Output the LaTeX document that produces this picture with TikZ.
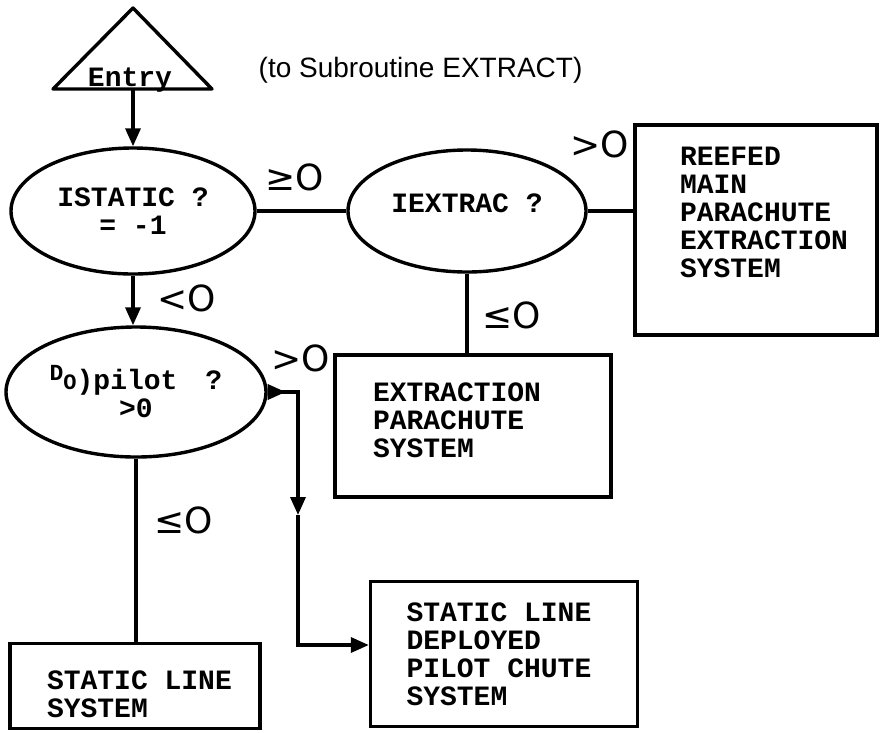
\documentclass[tikz,border=0pt]{standalone}
\usepackage{fontspec}
\setmonofont{Liberation Mono}
\newfontfamily\headfont{Liberation Sans}
\newfontfamily\condfont{DejaVu Sans}
\usepackage{tikz}
\usetikzlibrary{arrows.meta,shapes.geometric}

\begin{document}
\begin{tikzpicture}[x=1pt,y=-1pt,>={Triangle[length=18pt,width=15pt]},line width=3.4pt,
  typed/.style={font=\ttfamily\bfseries\fontsize{28}{28}\selectfont},
  test/.style={ellipse,draw,inner sep=0pt,typed,align=center},
  sysbox/.style={rectangle,draw,inner sep=0pt},
  boxtext/.style={typed,anchor=north west,inner sep=0pt,align=left},
  cond/.style={font=\condfont\fontsize{36}{36}\selectfont,inner sep=0pt}]
\useasboundingbox (0,0) rectangle (882,732);
\draw[line join=round] (133,8) -- (212,89) -- (53,89) -- cycle;
\node[typed,anchor=base,inner sep=0pt] (entry) at (130,86) {Entry};
\coordinate (entrybase) at (133,89);
\node[font=\headfont\fontsize{28}{28}\selectfont,anchor=base west,inner sep=0pt] (title) at (257,77) {(to Subroutine EXTRACT)};
\node[test,minimum width=244pt,minimum height=126pt] (istatic) at (133,211) {ISTATIC ?\\= -1};
\node[test,minimum width=238pt,minimum height=122pt] (iextrac) at (467,211) {\raisebox{16pt}{IEXTRAC ?}};
\node[test,minimum width=260pt,minimum height=130pt] (dpilot) at (136,392) {\raisebox{9pt}{\fontsize{23}{23}\selectfont D}{\fontsize{22}{22}\selectfont O})pilot\hspace{28pt}?\\>0};
\node[sysbox,minimum width=242pt,minimum height=210pt] (reefed) at (756,230) {};
\node[boxtext] (reefedtext) at ([shift={(45,22)}]reefed.north west) {REEFED\\MAIN\\PARACHUTE\\EXTRACTION\\SYSTEM};
\node[sysbox,minimum width=276pt,minimum height=142pt] (extraction) at (473,426) {};
\node[boxtext] (extractiontext) at ([shift={(38,28)}]extraction.north west) {EXTRACTION\\PARACHUTE\\SYSTEM};
\node[sysbox,minimum width=250pt,minimum height=85pt] (staticline) at (135,686) {};
\node[boxtext] (staticlinetext) at ([shift={(37,27)}]staticline.north west) {STATIC LINE\\SYSTEM};
\node[sysbox,minimum width=267pt,minimum height=145pt] (deployed) at (504,654) {};
\node[boxtext] (deployedtext) at ([shift={(36,21)}]deployed.north west) {STATIC LINE\\DEPLOYED\\PILOT CHUTE\\SYSTEM};
\node[cond] (ge) at (295,177) {≥O};
\node[cond] (gtextrac) at (600,144) {>O};
\node[cond] (ltstatic) at (187,298) {<O};
\node[cond] (leextrac) at (512,315) {≤O};
\node[cond] (gtpilot) at (301,358) {>O};
\node[cond] (lepilot) at (184,520) {≤O};
\coordinate (bendtop) at (298,392);
\coordinate (midtip) at (298,515);
\coordinate (bendlow) at (298,645);
\draw[->] (entrybase) -- (istatic.north);
\draw (istatic.east) -- (iextrac.west);
\draw (iextrac.east) -- (iextrac.east -| reefed.west);
\draw (iextrac.south) -- (iextrac.south |- extraction.north);
\draw[->] (istatic.south) -- (istatic.south |- dpilot.north);
\draw (dpilot.south) -- (dpilot.south |- staticline.north);
\draw[{Triangle[reversed,length=18pt,width=15pt]}->] (dpilot.east) -- (bendtop) -- (midtip);
\draw[->] (midtip) -- (bendlow) -- (bendlow -| deployed.west);
\end{tikzpicture}
\end{document}
